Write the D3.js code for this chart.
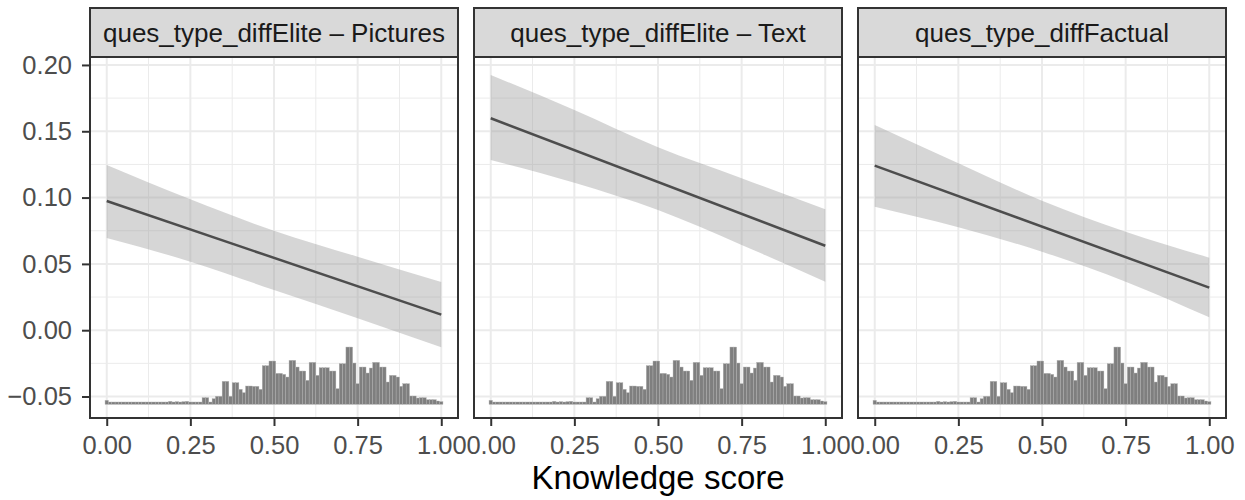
<!DOCTYPE html>
<html>
<head>
<meta charset="utf-8">
<script src="https://cdn.jsdelivr.net/npm/d3@7"></script>
<style>
  html, body { margin: 0; padding: 0; background: #ffffff; }
  svg { display: block; font-family: "Liberation Sans", Arial, Helvetica, sans-serif; }
</style>
</head>
<body>
<svg id="chart" width="1245" height="500"></svg>
<script>
// ---------- data ----------
const panelLabels = ["ques_type_diffElite \u2013 Pictures", "ques_type_diffElite \u2013 Text", "ques_type_diffFactual"];
const xTicks = [0, 0.25, 0.5, 0.75, 1];
const xTickLabels = ["0.00", "0.25", "0.50", "0.75", "1.00"];
const yTicks = [-0.05, 0, 0.05, 0.10, 0.15, 0.20];
const yTickLabels = ["\u22120.05", "0.00", "0.05", "0.10", "0.15", "0.20"];
const xTitle = "Knowledge score";

// fitted line (end points) per panel
const lineX = [0, 1];
const linePictures = [0.0974, 0.0117];
const lineText = [0.1598, 0.0637];
const lineFactual = [0.1241, 0.0321];

// confidence ribbon per panel
const ribbonX = [0, 0.25, 0.5, 0.75, 1];
const upperPictures = [0.1246, 0.0987, 0.0750, 0.0554, 0.0363];
const lowerPictures = [0.0695, 0.0517, 0.0303, 0.0090, -0.0129];
const upperText = [0.1925, 0.1660, 0.1379, 0.1146, 0.0912];
const lowerText = [0.1284, 0.1112, 0.0906, 0.0643, 0.0366];
const upperFactual = [0.1548, 0.1259, 0.0977, 0.0743, 0.0547];
const lowerFactual = [0.0931, 0.0776, 0.0592, 0.0366, 0.0097];

// histogram of knowledge score (bins of width 0.01 centred on 0.00 ... 1.00), relative counts
const histBinWidth = 0.01;
const histCounts = [
  12, 7, 7, 7, 7, 7, 7, 7, 7, 7,
  7, 7, 7, 7, 7, 7, 7, 7, 7, 9,
  7, 8, 7, 8, 9, 7, 7, 7, 7, 20,
  20, 7, 17, 24, 24, 69, 69, 24, 65, 65,
  45, 35, 55, 55, 54, 54, 45, 116, 116, 130,
  130, 93, 93, 90, 82, 132, 132, 112, 100, 100,
  72, 126, 126, 87, 110, 110, 110, 100, 100, 47,
  122, 122, 172, 172, 124, 62, 112, 112, 94, 109,
  126, 126, 112, 112, 67, 87, 87, 82, 54, 62,
  62, 25, 25, 19, 20, 20, 14, 14, 14, 10,
  8
];

const panelsData = [
  { label: panelLabels[0], line: linePictures, upper: upperPictures, lower: lowerPictures },
  { label: panelLabels[1], line: lineText, upper: upperText, lower: lowerText },
  { label: panelLabels[2], line: lineFactual, upper: upperFactual, lower: lowerFactual }
];

// ---------- layout ----------
const panelLefts = [90, 474, 858];
const panelW = 368;
const stripTop = 8, stripBottom = 57, panelBottom = 418;

const svg = d3.select("#chart");

const y = d3.scaleLinear().domain([-0.0662, 0.2060]).range([panelBottom, stripBottom]);
const hY = d3.scaleLinear().domain([0, 172]).range([-0.0559, -0.0127]);
const yMinor = [-0.025, 0.025, 0.075, 0.125, 0.175];
const xMinor = [0.125, 0.375, 0.625, 0.875];

panelsData.forEach((p, i) => {
  const left = panelLefts[i];
  const x = d3.scaleLinear().domain([-0.05, 1.05]).range([left, left + panelW]);
  const g = svg.append("g");

  g.append("rect").attr("x", left).attr("y", stripBottom).attr("width", panelW)
    .attr("height", panelBottom - stripBottom).attr("fill", "#ffffff");

  // minor grid
  g.selectAll(".ymin").data(yMinor).join("line")
    .attr("x1", left).attr("x2", left + panelW)
    .attr("y1", d => y(d)).attr("y2", d => y(d))
    .attr("stroke", "#ebebeb").attr("stroke-width", 1);
  g.selectAll(".xmin").data(xMinor).join("line")
    .attr("y1", stripBottom).attr("y2", panelBottom)
    .attr("x1", d => x(d)).attr("x2", d => x(d))
    .attr("stroke", "#ebebeb").attr("stroke-width", 1);
  // major grid
  g.selectAll(".ymaj").data(yTicks).join("line")
    .attr("x1", left).attr("x2", left + panelW)
    .attr("y1", d => y(d)).attr("y2", d => y(d))
    .attr("stroke", "#ebebeb").attr("stroke-width", 2);
  g.selectAll(".xmaj").data(xTicks).join("line")
    .attr("y1", stripBottom).attr("y2", panelBottom)
    .attr("x1", d => x(d)).attr("x2", d => x(d))
    .attr("stroke", "#ebebeb").attr("stroke-width", 2);

  // histogram
  g.selectAll(".bar").data(histCounts).join("rect")
    .attr("x", (d, k) => x(k * histBinWidth - histBinWidth / 2))
    .attr("width", (d, k) => x(k * histBinWidth + histBinWidth / 2) - x(k * histBinWidth - histBinWidth / 2))
    .attr("y", d => y(hY(d)))
    .attr("height", d => y(hY(0)) - y(hY(d)))
    .attr("fill", "#7f7f7f")
    .attr("stroke", "#b0b0b0").attr("stroke-width", 0.4);

  // ribbon
  const ribbon = ribbonX.map((xv, k) => ({ x: xv, lo: p.lower[k], hi: p.upper[k] }));
  g.append("path").datum(ribbon)
    .attr("d", d3.area().x(d => x(d.x)).y0(d => y(d.lo)).y1(d => y(d.hi)).curve(d3.curveMonotoneX))
    .attr("fill", "#999999").attr("fill-opacity", 0.4);

  // fitted line
  const ln = lineX.map((xv, k) => ({ x: xv, y: p.line[k] }));
  g.append("path").datum(ln)
    .attr("d", d3.line().x(d => x(d.x)).y(d => y(d.y)))
    .attr("fill", "none").attr("stroke", "#4d4d4d").attr("stroke-width", 2.5);

  // panel border
  g.append("rect").attr("x", left).attr("y", stripBottom).attr("width", panelW)
    .attr("height", panelBottom - stripBottom)
    .attr("fill", "none").attr("stroke", "#333333").attr("stroke-width", 2);

  // strip
  g.append("rect").attr("x", left).attr("y", stripTop).attr("width", panelW)
    .attr("height", stripBottom - stripTop)
    .attr("fill", "#d9d9d9").attr("stroke", "#333333").attr("stroke-width", 2);
  g.append("text").attr("x", left + panelW / 2).attr("y", 41.5)
    .attr("text-anchor", "middle").attr("font-size", 26).attr("fill", "#1a1a1a")
    .text(p.label);

  // x axis ticks
  const xa = g.append("g").attr("transform", `translate(0,${panelBottom})`)
    .call(d3.axisBottom(x).tickValues(xTicks).tickFormat((d, k) => xTickLabels[k]).tickSize(8).tickPadding(10));
  xa.select(".domain").remove();
  xa.selectAll(".tick line").attr("stroke", "#333333").attr("stroke-width", 2);
  xa.selectAll(".tick text").attr("font-size", 25.5).attr("fill", "#4d4d4d")
    .attr("font-family", "Liberation Sans, Arial, sans-serif");
});

// y axis (left of first panel)
const ya = svg.append("g").attr("transform", `translate(${panelLefts[0]},0)`)
  .call(d3.axisLeft(y).tickValues(yTicks).tickFormat((d, k) => yTickLabels[k]).tickSize(8).tickPadding(10));
ya.select(".domain").remove();
ya.selectAll(".tick line").attr("stroke", "#333333").attr("stroke-width", 2);
ya.selectAll(".tick text").attr("font-size", 25.5).attr("fill", "#4d4d4d")
  .attr("font-family", "Liberation Sans, Arial, sans-serif");

// x title
svg.append("text").attr("x", (panelLefts[0] + panelLefts[2] + panelW) / 2).attr("y", 489)
  .attr("text-anchor", "middle").attr("font-size", 33).attr("fill", "#000000")
  .text(xTitle);
</script>
</body>
</html>
